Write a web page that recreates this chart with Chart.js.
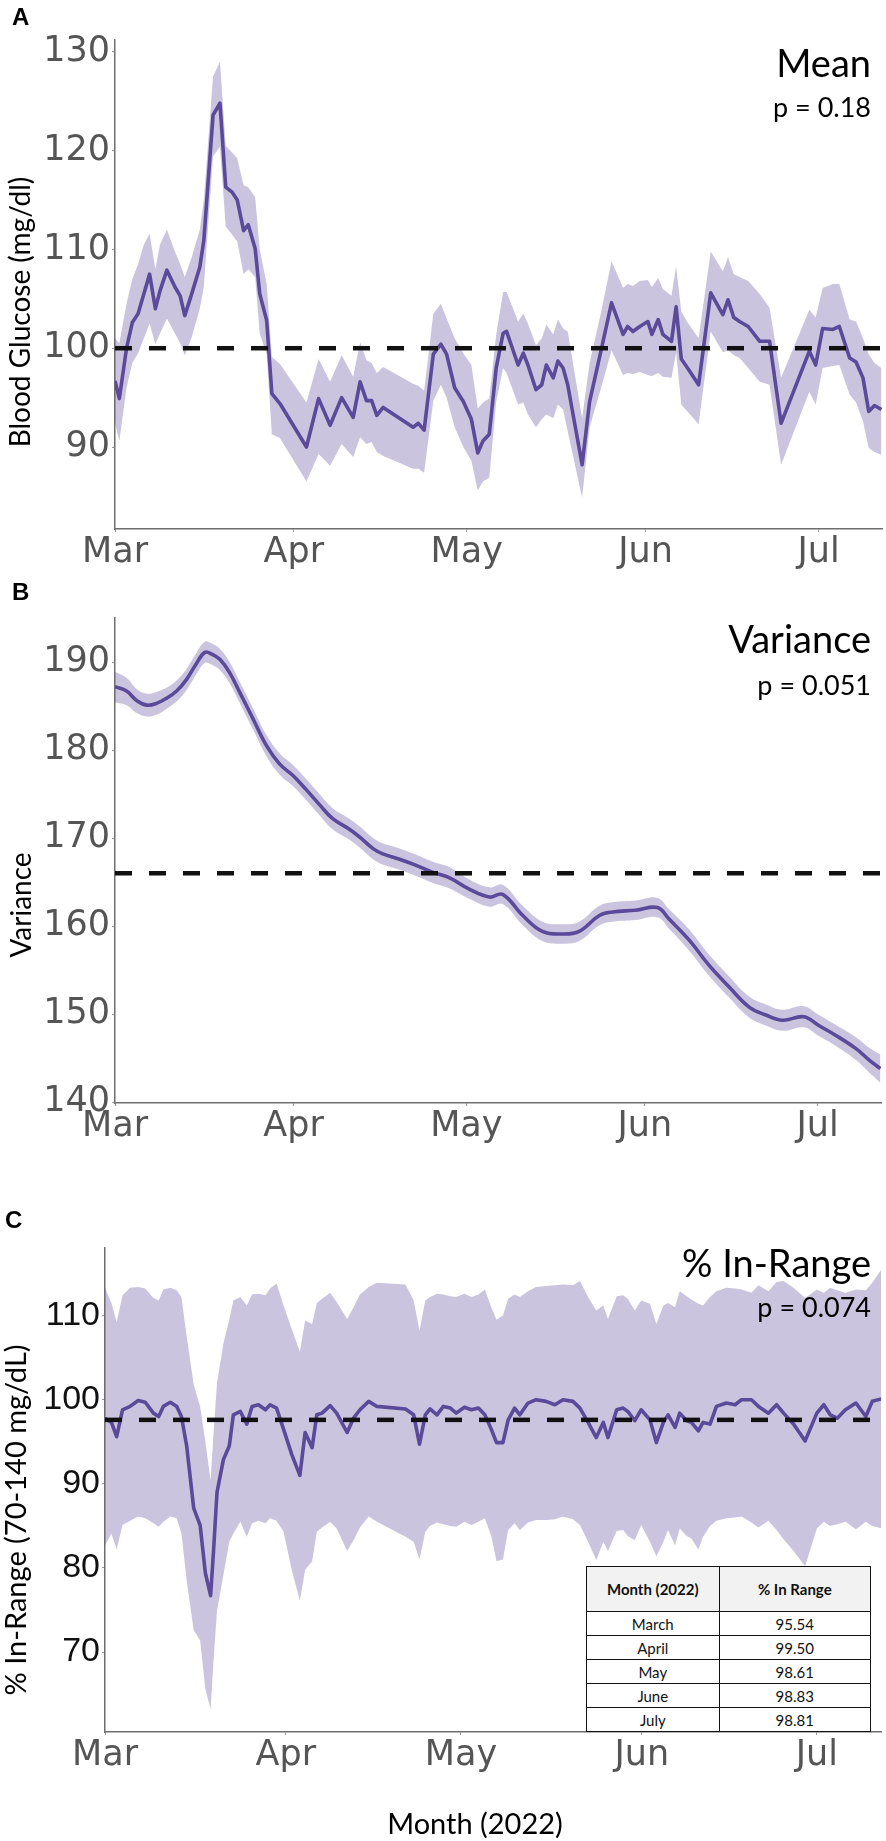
<!DOCTYPE html>
<html>
<head>
<meta charset="utf-8">
<script src="https://cdn.jsdelivr.net/npm/chart.js@4.4.1/dist/chart.umd.min.js"></script>
<style>
  html, body { margin: 0; padding: 0; background: #fff; }
  #page { position: relative; width: 886px; height: 1841px; overflow: hidden; }
  canvas { position: absolute; left: 0; }
  #labels { position: absolute; left: 0; top: 0; pointer-events: none; }
  #rangeTable {
    position: absolute; left: 586px; top: 1566px; width: 285px;
    border-collapse: collapse; background: #fff;
    font-family: Lato, "Open Sans", sans-serif; font-size: 15px; color: #111;
  }
  #rangeTable th, #rangeTable td { border: 1.5px solid #111; text-align: center; padding: 0; }
  #rangeTable th { height: 44px; background: #f2f2f2; font-weight: bold; }
  #rangeTable td { height: 22px; line-height: 20px; padding-top: 1px; }
</style>
</head>
<body>
<div id="page">
  <canvas id="meanChart" width="886" height="585" style="top:0px"></canvas>
  <canvas id="varChart" width="886" height="560" style="top:595px"></canvas>
  <canvas id="rangeChart" width="886" height="555" style="top:1225px"></canvas>

  <table id="rangeTable">
    <colgroup><col style="width:133px"><col style="width:152px"></colgroup>
    <thead><tr><th>Month (2022)</th><th>% In Range</th></tr></thead>
    <tbody id="rangeRows"></tbody>
  </table>

  <svg id="labels" width="886" height="1841" xmlns="http://www.w3.org/2000/svg">
    <g font-family="Liberation Sans, Arial, sans-serif" font-weight="bold" font-size="24" fill="#000">
      <text x="12" y="25">A</text>
      <text x="12" y="600">B</text>
      <text x="5" y="1228">C</text>
    </g>
    <g font-family="Lato, 'Open Sans', sans-serif" fill="#000" text-anchor="end">
      <text x="871" y="77" font-size="38">Mean</text>
      <text x="871" y="117" font-size="27">p = 0.18</text>
      <text x="871" y="653" font-size="38">Variance</text>
      <text x="871" y="695" font-size="27">p = 0.051</text>
      <text x="871" y="1277" font-size="38">% In-Range</text>
      <text x="871" y="1317" font-size="27">p = 0.074</text>
    </g>
    <g font-family="Lato, 'Open Sans', sans-serif" fill="#000" text-anchor="middle">
      <text transform="translate(30,312) rotate(-90)" font-size="28">Blood Glucose (mg/dl)</text>
      <text transform="translate(31,905) rotate(-90)" font-size="28">Variance</text>
      <text transform="translate(26,1520) rotate(-90)" font-size="29">% In-Range (70-140 mg/dL)</text>
      <text x="475" y="1834" font-size="29">Month (2022)</text>
    </g>
  </svg>
</div>

<script>
// x axis: days since 1 March 2022
const dayMax = 133;
const monthTicks = [0, 31, 61, 92, 122];
const monthLabels = ['Mar', 'Apr', 'May', 'Jun', 'Jul'];

// Panel A - mean blood glucose
const meanDays = [0, 0.75, 2, 3, 4, 5, 6, 7, 7.8, 9,
  10.4, 11.3, 12.1, 13.3, 14.7, 15.4, 17, 18.2, 19.2, 20.3,
  21.2, 22.3, 23.1, 24.3, 25.1, 26.3, 27.2, 28.6, 33.2, 35.3,
  37.3, 39.3, 41.3, 42.5, 43.6, 44.5, 45.4, 46.5, 51.7, 52.6,
  53.6, 55.2, 56.5, 57.5, 58.9, 60.4, 61.8, 62.9, 63.8, 64.9,
  66.1, 67.3, 67.9, 69.9, 70.8, 71.6, 73, 74, 74.8, 76,
  76.8, 77.7, 78.5, 81, 82.3, 84.3, 86.1, 88.1, 88.9, 89.8,
  91, 92.4, 93.1, 94.2, 95, 96.5, 97.3, 98.2, 99.4, 101.2,
  103.3, 105.4, 106.3, 107.3, 108.3, 109.8, 111.8, 113.5, 115.5, 120.4,
  121.5, 122.7, 124.5, 125.6, 127.4, 128.5, 129.7, 130.7, 131.7, 132.9];
const meanValues = [96.7, 94.9, 100, 102.6, 103.5, 105.5, 107.5, 104, 105.8, 107.9,
  106.2, 105.3, 103.3, 105.5, 108.2, 110.9, 123.6, 124.8, 116.3, 115.8,
  115, 111.9, 112.5, 110.1, 105.5, 102.8, 95.4, 94.4, 90, 94.9,
  92.2, 95, 93, 96.6, 94.7, 94.7, 93.2, 94, 92, 92.4,
  91.7, 99.4, 100.4, 99.4, 96, 94.6, 92.8, 89.4, 90.6, 91.3,
  98, 101.5, 101.7, 98.3, 99.5, 98.3, 95.8, 96.3, 98.3, 97,
  98.7, 98, 96.3, 88.2, 94.6, 99.8, 104.6, 101.4, 102.2, 101.7,
  102.2, 102.7, 101.4, 102.9, 101.4, 100.7, 104.2, 98.9, 97.9, 96.3,
  105.6, 103.4, 104.9, 103.1, 102.7, 102.2, 100.7, 100.7, 92.4, 99.7,
  98.3, 102, 101.9, 102.2, 99, 98.6, 97, 93.6, 94.2, 93.8];
const meanUpper = [101, 100.5, 104.5, 107, 108.5, 110.5, 111.6, 108, 110.5, 112,
  109.8, 108.5, 107.2, 109.2, 112, 115, 127.5, 129, 120.5, 119.8,
  119.2, 116.5, 116.3, 115.3, 110, 106.5, 99.1, 98.4, 94.5, 98.9,
  96.6, 99.3, 97.1, 100.6, 98.8, 98.5, 97.5, 98.1, 96.4, 96.2,
  95.7, 103.5, 104.5, 103, 101, 99.5, 98.3, 93.9, 94.5, 94.9,
  101.4, 105.7, 105.7, 102.7, 103.5, 102.5, 100.3, 101, 102.4, 101.4,
  102.9, 102, 101.7, 92.9, 98.5, 103.7, 108.8, 106.1, 106.5, 106.3,
  106.8, 106.9, 106.2, 107.1, 106, 105.3, 108.3, 103.7, 102.5, 101,
  109.8, 107.8, 109.2, 107.5, 107.2, 106.8, 105.5, 104.1, 97, 103.9,
  103.1, 106.1, 106.5, 106.5, 102.9, 102.7, 101, 99.4, 98.5, 98];
const meanLower = [92.5, 90.6, 96, 98.5, 99.5, 101, 102.5, 100.4, 101.5, 103,
  101.5, 100.5, 99.3, 101.1, 104, 106.2, 119.4, 120.4, 112.3, 111.5,
  110.8, 107.5, 108, 107.2, 101.5, 99.4, 91.3, 90.9, 86.5, 89.3,
  88.1, 90.3, 89, 91, 90.3, 90.5, 89.5, 89.1, 87.8, 87.8,
  87.4, 94.7, 96.3, 95, 92, 90, 88.6, 85.6, 86.5, 86.9,
  94.6, 98, 97.5, 94.3, 94.5, 93.3, 92, 92.8, 93.3, 92.9,
  94.3, 93.8, 91.6, 84.9, 92, 96, 99.8, 97.3, 97.5, 97.4,
  97.6, 97.3, 97.2, 97.5, 97.1, 97, 99.6, 94.3, 93.5, 92.3,
  101.7, 99.6, 99.8, 99.3, 99, 98, 96.6, 96.3, 88.2, 95.6,
  94.3, 98, 98.2, 98.3, 95.3, 94.5, 92.6, 89.9, 89.5, 89.2];
const meanRef = 100;
const meanTicks = [90, 100, 110, 120, 130];

// Panel B - variance
const varDays = [0, 2, 3.8, 5.5, 7.2, 9, 10.7, 12.4, 14.2, 15.6,
  16.8, 18.2, 19.9, 21.7, 24, 26.3, 28.6, 30.9, 33.2, 35.5,
  37.8, 40.7, 42.5, 44.8, 46.5, 49.4, 52.3, 55.2, 58, 61.5,
  65, 67.3, 70.8, 74.2, 77.7, 80.6, 84.1, 86.4, 90.4, 94.2,
  96.2, 99.7, 103.2, 106.6, 110.1, 113, 115.9, 119.6, 122.2, 125.1,
  128.6, 130.9, 132.9];
const varValues = [187.2, 186.7, 185.6, 185.1, 185.3, 185.9, 186.7, 188, 189.9, 191.1,
  190.9, 190.3, 188.8, 186.5, 183.5, 180.5, 178.4, 177.1, 175.5, 173.8,
  172.2, 171, 170.1, 168.8, 168.2, 167.6, 166.9, 166.1, 165.5, 164.2,
  163.3, 163.6, 161.2, 159.4, 159.1, 159.4, 161.2, 161.6, 161.8, 162.1,
  160.8, 158.4, 155.5, 153.1, 150.8, 149.9, 149.3, 149.7, 148.7, 147.6,
  146.1, 144.8, 143.8];
const varUpper = [188.9, 188.2, 186.9, 186.4, 186.6, 187.1, 187.9, 189.2, 191.1, 192.3,
  192.1, 191.5, 190, 187.7, 184.7, 181.7, 179.6, 178.3, 176.7, 175,
  173.4, 172.2, 171.3, 170, 169.4, 168.8, 168.1, 167.3, 166.7, 165.3,
  164.4, 164.7, 162.3, 160.5, 160.2, 160.5, 162.3, 162.7, 162.9, 163.2,
  161.9, 159.6, 156.7, 154.3, 152, 151.1, 150.5, 150.9, 149.9, 148.8,
  147.4, 146.2, 145.4];
const varLower = [185.4, 185.1, 184.2, 183.8, 184, 184.7, 185.5, 186.8, 188.7, 189.9,
  189.7, 189.1, 187.6, 185.3, 182.3, 179.3, 177.2, 175.9, 174.3, 172.6,
  171, 169.8, 168.9, 167.6, 167, 166.4, 165.7, 164.9, 164.3, 163.1,
  162.2, 162.5, 160.1, 158.3, 158, 158.3, 160.1, 160.5, 160.7, 161,
  159.7, 157.2, 154.3, 151.9, 149.6, 148.7, 148.1, 148.5, 147.5, 146.4,
  144.8, 143.4, 142.2];
const varRef = 166;
const varTicks = [140, 150, 160, 170, 180, 190];

// Panel C - % in range (70-140 mg/dL)
const rangeDays = [0, 1.1, 2, 3, 4.3, 5.7, 6.9, 8.3, 9.2, 10,
  11.2, 12.3, 13.1, 14, 15.2, 16.3, 17.2, 18.1, 18.6, 19.2,
  20.3, 21.3, 22, 23.2, 24.3, 25.2, 26.3, 27.5, 28.3, 29.4,
  30.6, 32, 33.4, 34.3, 35.5, 36.3, 37.2, 38.6, 39.7, 41.5,
  42.6, 43.7, 45.2, 46.6, 51.5, 52.9, 53.9, 54.9, 55.7, 56.9,
  58, 59.2, 60.2, 61.6, 62.8, 64, 65.1, 66.2, 67.1, 68.2,
  69.1, 70.2, 71.1, 72.5, 73.9, 75.6, 77.1, 78.5, 80.2, 81.4,
  82.8, 84.2, 85.4, 86.2, 87.7, 88.8, 89.6, 90.8, 91.9, 93.4,
  94.5, 95.7, 96.5, 97.7, 98.5, 99.7, 100.5, 101.7, 102.5, 103.7,
  104.8, 106.5, 108, 109.1, 110.8, 112, 113.7, 115.1, 116.3, 118,
  120, 122, 123.2, 124.3, 125.5, 126.9, 128.7, 130.4, 131.5, 133.1];
const rangeValues = [97.8, 97.3, 95.6, 98.8, 99.2, 99.9, 99.7, 98.4, 98, 99.2,
  99.7, 99.2, 98, 94.5, 87.1, 85.1, 79.4, 76.7, 82, 89,
  92.9, 94.5, 98.2, 98.6, 97.1, 99.2, 99.4, 98.8, 99.4, 99,
  96.5, 93.5, 91, 96.1, 94.3, 98.2, 98.4, 99.3, 98.4, 96.1,
  97.8, 98.8, 99.8, 99.2, 98.9, 98.2, 94.7, 98.2, 98.9, 98.2,
  99.2, 99, 98.4, 99.1, 98.8, 99, 98.2, 96.5, 94.9, 94.9,
  97.6, 99, 98.2, 99.6, 100, 99.8, 99.4, 100, 99.8, 99,
  97.3, 95.5, 97.3, 95.5, 98.8, 99, 98.6, 97.5, 98.8, 97.6,
  94.9, 97.3, 98.2, 96.7, 98.4, 97.5, 97.3, 96.3, 97.3, 97.1,
  99.2, 99.6, 99.4, 100, 100, 99.2, 98.4, 99.4, 98.4, 97.1,
  95.1, 98.4, 99.4, 98.2, 97.8, 98.8, 99.6, 98, 99.8, 100.1];
const rangeUpper = [113.3, 111.5, 109.2, 112.4, 113.3, 113.4, 113.2, 112.1, 111.8, 113.1,
  113.3, 113, 112.2, 107.5, 101.8, 99.2, 95, 90.4, 96, 102,
  106.7, 109.5, 111.8, 112.2, 111.2, 112.5, 112.6, 112.4, 113.2, 113.8,
  111.2, 108.4, 105.7, 109.4, 109, 111.5, 112, 112.7, 111.6, 109.6,
  111, 112.5, 113.4, 113.9, 113.7, 111.8, 108.2, 111.8, 112.2, 112.6,
  112.5, 112.3, 112.2, 112.6, 112.2, 112.5, 113.1, 111, 109.5, 110,
  112, 112.5, 112.2, 112.9, 113.4, 113.5, 113.6, 113.7, 113.6, 114.1,
  112.2, 110.6, 111.2, 109.6, 112.3, 112.4, 112, 110.6, 111.8, 111.4,
  109, 111.2, 111.5, 111, 112.9, 112.3, 111.9, 111.4, 111.2, 112.2,
  112.9, 113.3, 113.2, 113.1, 112.7, 113.6, 112.9, 114, 114.1, 113.3,
  112.1, 113.1, 112.7, 113.3, 113, 112.7, 113.1, 113, 113.9, 115.5];
const rangeLower = [82.7, 84.1, 82.2, 85.1, 85.6, 86.1, 85.9, 85.3, 84.9, 85.5,
  86.1, 85.9, 84.1, 78.5, 72.6, 71.4, 65.6, 63.2, 69, 74.9,
  79.2, 83.1, 84.1, 85.5, 83.7, 85.3, 85.6, 85.3, 85.9, 85.6,
  84.3, 79.8, 76.1, 79.8, 80.8, 84.3, 84.8, 85.5, 84.7, 82,
  83.3, 84.8, 86.1, 85.5, 83.7, 83.1, 81, 84.3, 85, 85.4,
  85.2, 85, 84.9, 85.5, 85.1, 85.5, 85.9, 83.8, 80.8, 81,
  84.5, 85.3, 84.5, 85.4, 85.7, 85.7, 85.8, 86.1, 85.8, 85.1,
  83.1, 80.9, 83.1, 82, 84.4, 84.5, 83.8, 83.3, 85.1, 83.1,
  81.4, 83.1, 84.5, 82.7, 84.7, 83.8, 83.5, 82.2, 83.7, 85,
  85.6, 85.9, 86, 86.1, 85.4, 84.8, 85.6, 84.5, 83.4, 82,
  80.2, 84.7, 85.5, 85, 85.2, 85.5, 84.6, 85.5, 85, 84.7];
const rangeRef = 97.6;
const rangeTicks = [70, 80, 90, 100, 110];

// inset table
const tableMonths = ['March', 'April', 'May', 'June', 'July'];
const tableInRange = ['95.54', '99.50', '98.61', '98.83', '98.81'];

const lineColor = '#5b4a9a';
const bandColor = 'rgba(94, 75, 156, 0.33)';
const axisColor = '#6e6e6e';

function toPoints(xs, ys) {
  return xs.map((x, i) => ({ x: x, y: ys[i] }));
}

function drawPanel(id, p) {
  const tension = p.tension || 0;
  new Chart(document.getElementById(id).getContext('2d'), {
    type: 'line',
    data: {
      datasets: [
        { data: toPoints(p.days, p.upper), borderColor: 'rgba(0,0,0,0)', borderWidth: 0,
          pointRadius: 0, fill: false, order: 2, tension: tension },
        { data: toPoints(p.days, p.lower), borderColor: 'rgba(0,0,0,0)', borderWidth: 0,
          pointRadius: 0, fill: '-1', backgroundColor: bandColor, order: 2, tension: tension },
        { data: toPoints(p.days, p.values), borderColor: lineColor, borderWidth: 3.6,
          pointRadius: 0, fill: false, order: 1, tension: tension, borderJoinStyle: 'round' },
        { data: [{ x: 0, y: p.ref }, { x: dayMax, y: p.ref }], borderColor: '#111', borderWidth: 4.5,
          borderDash: [17, 17], pointRadius: 0, fill: false, order: 0 }
      ]
    },
    options: {
      responsive: false,
      animation: false,
      events: [],
      layout: { padding: { top: p.padTop, right: p.padRight, left: 0, bottom: 0 } },
      plugins: { legend: { display: false }, tooltip: { enabled: false } },
      scales: {
        x: {
          type: 'linear', min: 0, max: dayMax,
          border: { display: true, color: axisColor, width: 1.5 },
          grid: { display: true, drawOnChartArea: false, drawTicks: true, tickLength: 3, color: '#999' },
          ticks: {
            font: { family: 'DejaVu Sans', size: 35 }, color: '#555', padding: 0,
            maxRotation: 0, autoSkip: false,
            callback: (v, i) => monthLabels[i]
          },
          afterBuildTicks: s => { s.ticks = monthTicks.map(v => ({ value: v })); },
          afterFit: s => { s.height = p.xAxisHeight; }
        },
        y: {
          type: 'linear', min: p.yMin, max: p.yMax,
          border: { display: true, color: axisColor, width: 1.5 },
          grid: { display: true, drawOnChartArea: false, drawTicks: true, tickLength: 3, color: '#999' },
          ticks: { font: p.tickFont, color: p.tickColor, padding: 2 },
          afterBuildTicks: s => { s.ticks = p.ticks.map(v => ({ value: v })); },
          afterFit: s => { s.width = p.yAxisWidth; }
        }
      }
    }
  });
}

drawPanel('meanChart', {
  days: meanDays, values: meanValues, upper: meanUpper, lower: meanLower, ref: meanRef,
  ticks: meanTicks, yMin: 81.7, yMax: 131.2,
  padTop: 40, padRight: 4, yAxisWidth: 115, xAxisHeight: 56,
  tickFont: { family: 'DejaVu Sans', size: 35 }, tickColor: '#555'
});

drawPanel('varChart', {
  days: varDays, values: varValues, upper: varUpper, lower: varLower, ref: varRef,
  ticks: varTicks, yMin: 139.9, yMax: 195, tension: 0.4,
  padTop: 20, padRight: 5, yAxisWidth: 115, xAxisHeight: 52,
  tickFont: { family: 'DejaVu Sans', size: 35 }, tickColor: '#555'
});

drawPanel('rangeChart', {
  days: rangeDays, values: rangeValues, upper: rangeUpper, lower: rangeLower, ref: rangeRef,
  ticks: rangeTicks, yMin: 60.5, yMax: 118.1,
  padTop: 18, padRight: 5, yAxisWidth: 105, xAxisHeight: 48,
  tickFont: { family: 'Liberation Sans', size: 34 }, tickColor: '#111'
});

// fill the inset table
const tbody = document.getElementById('rangeRows');
tableMonths.forEach((m, i) => {
  const tr = document.createElement('tr');
  tr.innerHTML = '<td>' + m + '</td><td>' + tableInRange[i] + '</td>';
  tbody.appendChild(tr);
});
</script>
</body>
</html>
